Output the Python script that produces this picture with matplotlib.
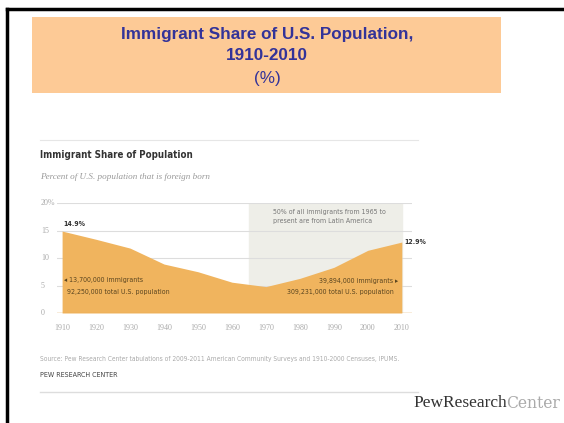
import matplotlib
matplotlib.use("Agg")
import matplotlib.pyplot as plt
from matplotlib.lines import Line2D
from matplotlib.patches import Rectangle

years = [1910, 1920, 1930, 1940, 1950, 1960, 1970, 1980, 1990, 2000, 2010]
share = [14.9, 13.4, 11.8, 8.9, 7.5, 5.6, 4.8, 6.3, 8.3, 11.4, 12.9]
yticks = [0, 5, 10, 15, 20]
ytick_labels = ["0", "5", "10", "15", "20%"]
shade_start = 1965

W, H = 564, 423
fig = plt.figure(figsize=(W / 100, H / 100), dpi=100)
fig.patch.set_facecolor("white")

NARROW = dict(family="DejaVu Sans", stretch="condensed")

def fx(px):
    return px / W

def fy(py):
    return 1 - py / H

# outer frame
fig.add_artist(Line2D([fx(7), fx(7)], [fy(9), 0], color="black", lw=2.5, transform=fig.transFigure))
fig.add_artist(Line2D([fx(7), 1], [fy(9), fy(9)], color="black", lw=2.5, transform=fig.transFigure))

# title box
fig.add_artist(Rectangle((fx(32), fy(93)), fx(501) - fx(32), fy(17) - fy(93),
                         facecolor="#FDCA96", edgecolor="none", transform=fig.transFigure))
navy = "#333399"
fig.text(fx(267), fy(34), "Immigrant Share of U.S. Population,", ha="center", va="center",
         fontsize=12.3, fontweight="bold", color=navy, family="Liberation Sans")
fig.text(fx(267), fy(56), "1910-2010", ha="center", va="center",
         fontsize=12.3, fontweight="bold", color=navy, family="Liberation Sans")
fig.text(fx(267), fy(78), "(%)", ha="center", va="center",
         fontsize=12.3, color=navy, family="Liberation Sans")

# inner chart header
fig.add_artist(Line2D([fx(40), fx(418)], [fy(140), fy(140)], color="#e6e6e6", lw=0.8, transform=fig.transFigure))
fig.text(fx(40), fy(155), "Immigrant Share of Population", ha="left", va="center",
         fontsize=7, fontweight="bold", color="#333333", **NARROW)
fig.text(fx(40), fy(177), "Percent of U.S. population that is foreign born", ha="left", va="center",
         fontsize=6.6, style="italic", color="#999999", family="Liberation Serif")

# axes
ax = fig.add_axes([fx(57), fy(313), fx(412) - fx(57), fy(203) - fy(313)])
ax.set_xlim(1908.5, 2013)
ax.set_ylim(0, 20)
ax.axvspan(shade_start, 2010, ymin=0, ymax=1, color="#EEEEE8", zorder=0)
for t in yticks:
    ax.axhline(t, color="#dddddd", lw=0.8, zorder=1)
ax.fill_between(years, share, 0, color="#F0B45E", lw=0, zorder=2)
ax.axhline(0, color="#E8A850", lw=1, zorder=3)
for s in ax.spines.values():
    s.set_visible(False)
ax.set_xticks(years)
ax.set_xticklabels([str(y) for y in years], fontsize=5.8, color="#aaaaaa", family="Liberation Serif")
ax.set_yticks([])
ax.tick_params(axis="x", length=0, pad=8)
for t, lab in zip(yticks, ytick_labels):
    ax.text(-0.045, t, lab, transform=ax.get_yaxis_transform(), ha="left", va="center",
            fontsize=5.8, color="#aaaaaa", family="Liberation Serif")

ax.annotate("14.9%", (years[0], share[0]), xytext=(1, 3), textcoords="offset points",
            fontsize=5, fontweight="bold", color="#333333", ha="left", va="bottom", **NARROW)
ax.annotate("12.9%", (years[-1], share[-1]), xytext=(2, 0), textcoords="offset points",
            fontsize=5, fontweight="bold", color="#333333", ha="left", va="center", **NARROW)
ax.text(1910.5, 6.0, "\u25C2 13,700,000 immigrants", fontsize=5, color="#5a4520",
        ha="left", va="center", **NARROW)
ax.text(1911.5, 3.9, "92,250,000 total U.S. population", fontsize=5, color="#5a4520",
        ha="left", va="center", **NARROW)
ax.text(2009, 5.9, "39,894,000 immigrants \u25B8", fontsize=5, color="#5a4520",
        ha="right", va="center", **NARROW)
ax.text(2007.5, 3.9, "309,231,000 total U.S. population", fontsize=5, color="#5a4520",
        ha="right", va="center", **NARROW)
ax.text(1972, 17.6, "50% of all immigrants from 1965 to\npresent are from Latin America",
        fontsize=5, color="#777777", ha="left", va="center", linespacing=1.6, **NARROW)

# footer
fig.text(fx(40), fy(359), "Source: Pew Research Center tabulations of 2009-2011 American Community Surveys and 1910-2000 Censuses, IPUMS.",
         ha="left", va="center", fontsize=4.8, color="#aaaaaa", **NARROW)
fig.text(fx(40), fy(375), "PEW RESEARCH CENTER", ha="left", va="center", fontsize=5.1,
         color="#444444", **NARROW)
fig.add_artist(Line2D([fx(40), fx(418)], [fy(392), fy(392)], color="#dddddd", lw=1, transform=fig.transFigure))

fig.text(fx(413), fy(403), "PewResearch", ha="left", va="center", fontsize=12.5,
         color="#333333", family="Liberation Serif")
fig.text(fx(506), fy(403), "Center", ha="left", va="center", fontsize=12.5,
         color="#aaaaaa", family="DejaVu Serif", stretch="condensed")

fig.savefig("out.png", dpi=100)
